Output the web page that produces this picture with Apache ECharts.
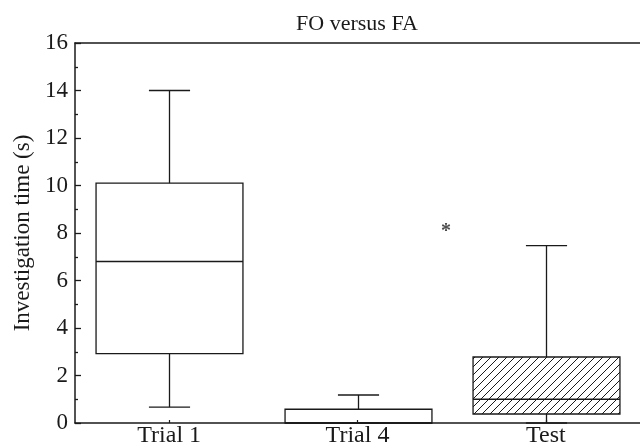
<!DOCTYPE html>
<html><head><meta charset="utf-8">
<script src="https://cdn.jsdelivr.net/npm/echarts@6/dist/echarts.min.js"></script>
<style>html,body{margin:0;padding:0;background:#fff}#c{width:640px;height:448px}</style>
</head><body><div id="c"></div>
<script>
const categories = ['Trial 1', 'Trial 4', 'Test'];
const whiskerLow = [0.67, 0, 0];
const q1 = [2.92, 0, 0.38];
const median = [6.8, 0, 1.0];
const q3 = [10.1, 0.58, 2.78];
const whiskerHigh = [14.0, 1.18, 7.47];
const hatched = [false, false, true];
const asterisk = [[1.47, 8.05]];

const FONT = 'Liberation Serif';
const INK = '#1a1a1a';

const tile = document.createElement('canvas');
tile.width = 8; tile.height = 8;
(function () {
  const g = tile.getContext('2d');
  g.strokeStyle = INK; g.lineWidth = 1;
  g.beginPath();
  g.moveTo(0, 8); g.lineTo(8, 0);
  g.moveTo(-1, 1); g.lineTo(1, -1);
  g.moveTo(7, 9); g.lineTo(9, 7);
  g.stroke();
})();
const hatchPattern = { image: tile, repeat: 'repeat' };

const boxData = categories.map((c, i) => [i, whiskerLow[i], q1[i], median[i], q3[i], whiskerHigh[i], hatched[i] ? 1 : 0]);

function renderItem(params, api) {
  const i = api.value(0);
  const band = api.size([1, 0])[0];
  const bw = band * 0.78;
  const cw = bw * 0.28;
  const pLo = api.coord([i, api.value(1)]);
  const pQ1 = api.coord([i, api.value(2)]);
  const pMed = api.coord([i, api.value(3)]);
  const pQ3 = api.coord([i, api.value(4)]);
  const pHi = api.coord([i, api.value(5)]);
  const x = Math.round(pLo[0]) + 0.5;
  const ls = { stroke: INK, lineWidth: 1.3 };
  const line = (x1, y1, x2, y2) => ({ type: 'line', shape: { x1, y1, x2, y2 }, style: ls });
  const children = [
    line(x, pQ3[1], x, pHi[1]),
    line(x - cw / 2, pHi[1], x + cw / 2, pHi[1]),
    line(x, pQ1[1], x, pLo[1]),
    line(x - cw / 2, pLo[1], x + cw / 2, pLo[1]),
    { type: 'rect', shape: { x: x - bw / 2, y: pQ3[1], width: bw, height: pQ1[1] - pQ3[1] },
      style: { fill: api.value(6) ? hatchPattern : 'none', stroke: INK, lineWidth: 1.3 } },
    line(x - bw / 2, pMed[1], x + bw / 2, pMed[1])
  ];
  return { type: 'group', children };
}

const chart = echarts.init(document.getElementById('c'), null, { renderer: 'canvas' });
chart.setOption({
  animation: false,
  backgroundColor: '#fff',
  title: {
    text: 'FO versus FA', left: 352, top: 8, textAlign: 'center',
    textStyle: { fontFamily: FONT, fontSize: 22, fontWeight: 'normal', color: INK }
  },
  grid: { left: 75, right: -5, top: 43, bottom: 24 },
  xAxis: [{
    type: 'category', data: categories, position: 'bottom',
    axisLine: { lineStyle: { color: INK, width: 1.5 } },
    axisTick: { show: true, inside: true, length: 3, alignWithLabel: true, lineStyle: { color: INK, width: 1.2 } },
    axisLabel: { fontFamily: FONT, fontSize: 24, color: INK, margin: 1 }
  }, {
    type: 'value', position: 'top', min: -0.5, max: 2.5,
    axisLine: { show: true, onZero: false, lineStyle: { color: INK, width: 1.5 } },
    axisTick: { show: false }, axisLabel: { show: false }, splitLine: { show: false }
  }],
  yAxis: {
    type: 'value', min: 0, max: 16, interval: 2,
    name: 'Investigation time (s)', nameLocation: 'middle', nameGap: 40,
    nameTextStyle: { fontFamily: FONT, fontSize: 23, color: INK },
    axisLine: { show: true, onZero: false, lineStyle: { color: INK, width: 1.5 } },
    axisTick: { show: true, inside: true, length: 6, lineStyle: { color: INK, width: 1.3 } },
    minorTick: { show: true, splitNumber: 2, length: 3, lineStyle: { color: INK, width: 1.3 } },
    splitLine: { show: false },
    axisLabel: { fontFamily: FONT, fontSize: 23, color: INK, margin: 7 }
  },
  series: [{
    type: 'custom', xAxisIndex: 0, renderItem, data: boxData,
    encode: { x: 0, y: [1, 2, 3, 4, 5] }
  }, {
    type: 'scatter', xAxisIndex: 1, data: asterisk, symbolSize: 1,
    itemStyle: { color: 'rgba(0,0,0,0)' },
    label: { show: true, formatter: '*', position: 'inside', fontFamily: FONT, fontSize: 20, fontWeight: 'bold', color: INK }
  }]
});
</script></body></html>
